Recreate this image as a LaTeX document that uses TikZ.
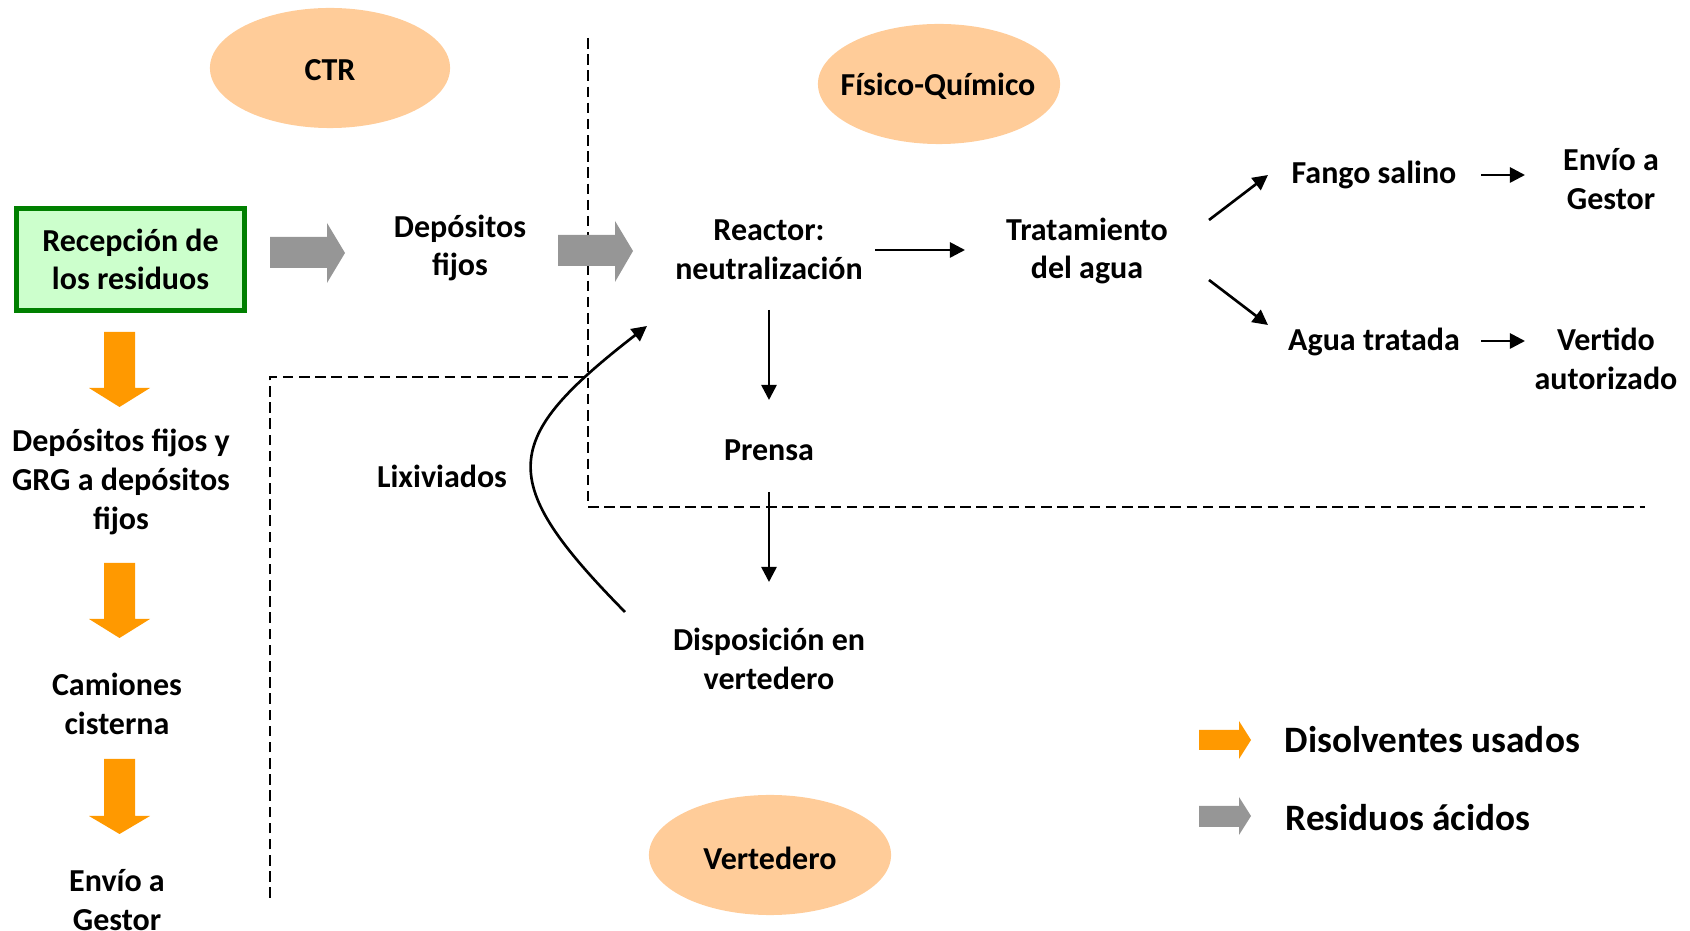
\documentclass[tikz,border=0pt]{standalone}
\usepackage{fontspec}
\setmainfont{Carlito}
\usetikzlibrary{calc,arrows.meta,shapes.geometric}
\definecolor{peach}{HTML}{FFCC99}
\definecolor{lgreen}{HTML}{CCFFCC}
\definecolor{dgreen}{HTML}{008000}
\definecolor{orangeA}{HTML}{FF9900}
\definecolor{grayA}{HTML}{969696}
\begin{document}
\begin{tikzpicture}[x=0.01cm,y=-0.01cm,
  lbl/.style={font=\bfseries\fontsize{9.1pt}{11pt}\selectfont, align=center, inner sep=0pt},
  leg/.style={font=\bfseries\fontsize{10.6pt}{12pt}\selectfont, anchor=west, inner sep=0pt},
  zonefill/.style={fill=peach},
  arr/.style={-{Triangle[length=4.3pt,width=4.3pt]}, line width=0.75pt},
  sepline/.style={dash pattern=on 3pt off 1.6pt, line width=0.5pt}]
\useasboundingbox (0,0) rectangle (1690,931);
% zones
\fill[zonefill] (330,68) ellipse [x radius=1.2cm, y radius=0.6cm];
\fill[zonefill] (939,84) ellipse [x radius=1.21cm, y radius=0.6cm];
\fill[zonefill] (770,855) ellipse [x radius=1.21cm, y radius=0.6cm];
\node[lbl] (ctr) at (330,70) {CTR};
\node[lbl] (fq) at (938,86) {Físico-Químico};
\node[lbl] (vert) at (770,858) {Vertedero};
% separators
\draw[sepline] (588,38) -- (588,507) -- (1645,507);
\draw[sepline] (270,898) -- (270,377) -- (588,377);
% nodes
\node[lbl, draw=dgreen, line width=1.2pt, fill=lgreen, minimum width=2.28cm, minimum height=1.02cm] (recep) at (130.5,259.5) {Recepción de\\los residuos};
\node[lbl] (deps) at (460,248) {Depósitos\\fijos};
\node[lbl] (reactor) at (769,250) {Reactor:\\neutralización};
\node[lbl] (trat) at (1087,251) {Tratamiento\\del agua};
\node[lbl] (fango) at (1374,175) {Fango salino};
\node[lbl] (envio1) at (1611,179) {Envío a\\Gestor};
\node[lbl] (agua) at (1374,342) {Agua tratada};
\node[lbl] (vertido) at (1606,359) {Vertido\\autorizado};
\node[lbl] (prensa) at (769,450) {Prensa};
\node[lbl] (dispo) at (769,659) {Disposición en\\vertedero};
\node[lbl] (lix) at (442,476) {Lixiviados};
\node[lbl] (dfg) at (121,482) {Depósitos fijos y\\GRG a depósitos\\fijos};
\node[lbl] (cam) at (117,704) {Camiones\\cisterna};
\node[lbl] (envio2) at (117,900) {Envío a\\Gestor};
% gray block arrows
\fill[grayA] (270,237) -- (327,237) -- (327,223) -- (345,253) -- (327,283) -- (327,268) -- (270,268) -- cycle;
\fill[grayA] (558,235) -- (615,235) -- (615,221) -- (633,251) -- (615,282) -- (615,266) -- (558,266) -- cycle;
% orange block arrows
\foreach \a/\b/\c in {332/388/407, 563/619/638, 759/816/834}{
  \fill[orangeA] (104,\a) -- (135,\a) -- (135,\b) -- (150,\b) -- (119.5,\c) -- (89,\b) -- (104,\b) -- cycle;
}
% black arrows
\draw[arr] ($(reactor)+(106,0)$) -- ($(trat)+(-122,-1)$);
\draw[arr] ($(trat)+(122,-31)$) -- ($(fango)+(-106,0)$);
\draw[arr] ($(trat)+(122,29)$) -- ($(agua)+(-106,-17)$);
\draw[arr] ($(fango)+(107,0)$) -- ($(envio1)+(-86,-4)$);
\draw[arr] ($(agua)+(107,-1)$) -- ($(vertido)+(-81,-18)$);
\draw[arr] ($(reactor)+(0,60)$) -- ($(prensa)+(0,-50)$);
\draw[arr] ($(prensa)+(0,42)$) -- ($(dispo)+(0,-77)$);
\draw[arr] ($(dispo)+(-144,-47)$) .. controls (495,480) and (500,440) .. ($(reactor)+(-122,76)$);
% legend
\fill[orangeA] (1199,730) -- (1239,730) -- (1239,721) -- (1251,740) -- (1239,759) -- (1239,750) -- (1199,750) -- cycle;
\fill[grayA] (1199,806) -- (1239,806) -- (1239,797) -- (1251,816) -- (1239,835) -- (1239,827) -- (1199,827) -- cycle;
\node[leg] (l1) at (1284,740) {Disolventes usados};
\node[leg] (l2) at (1285,818) {Residuos ácidos};
\end{tikzpicture}
\end{document}
